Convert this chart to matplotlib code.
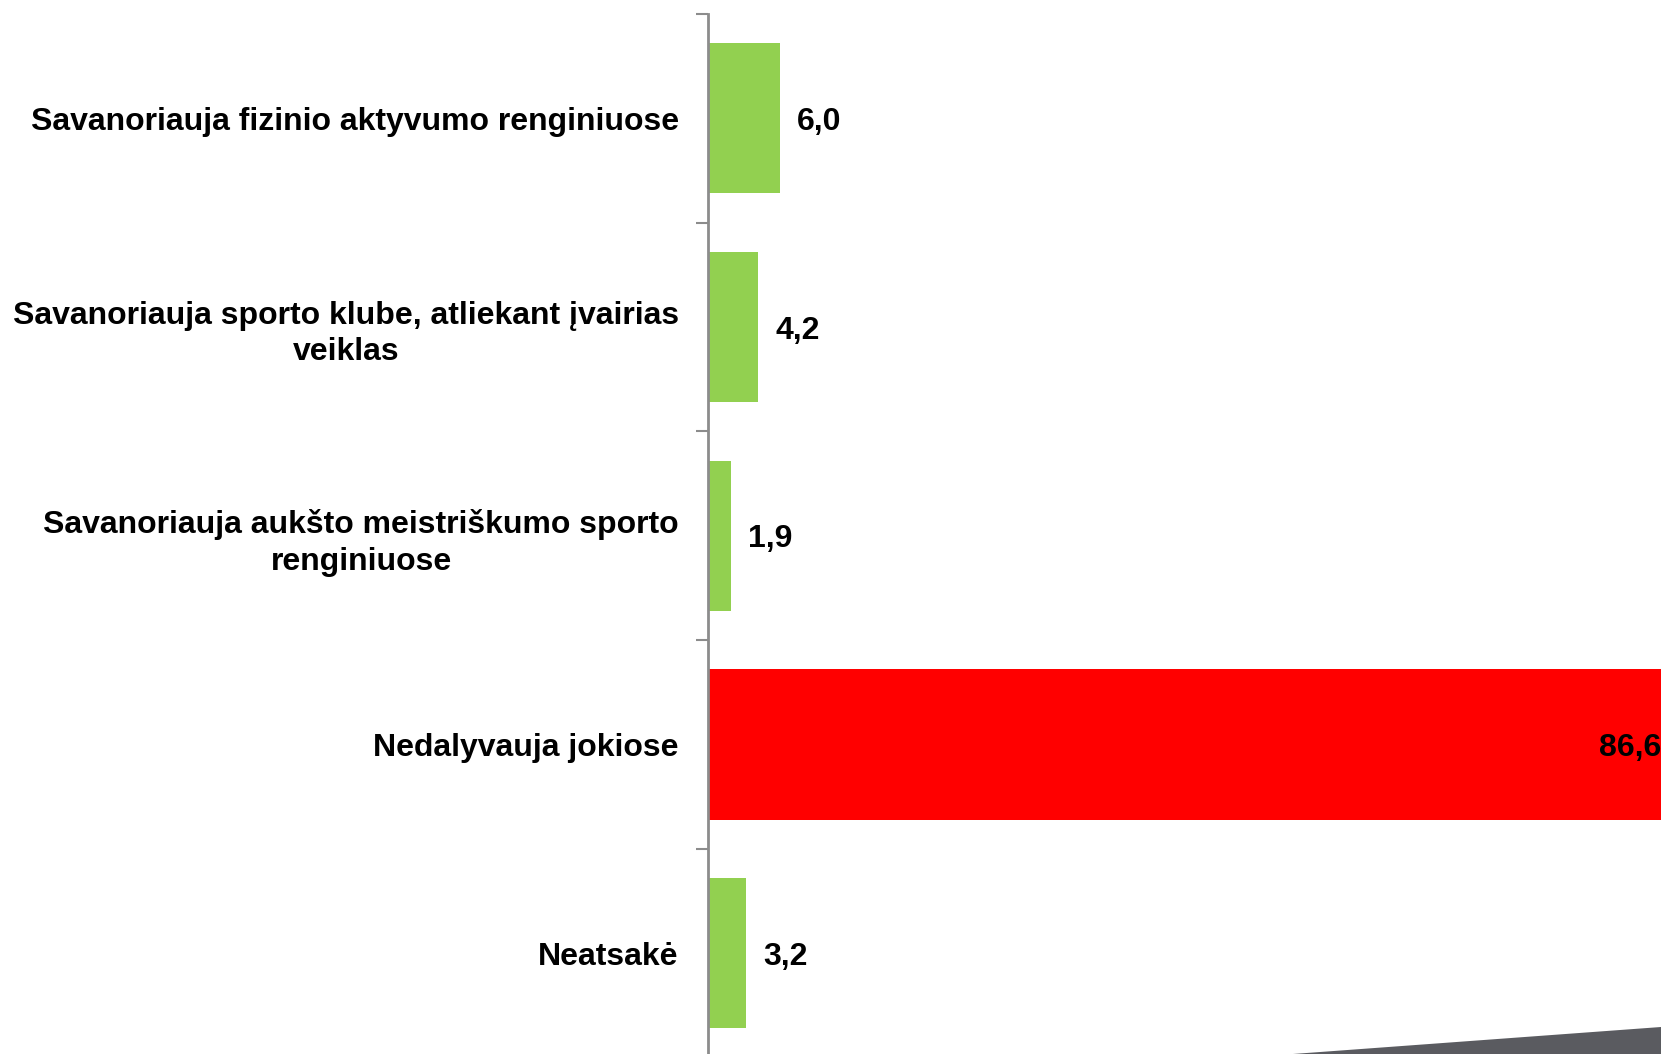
import matplotlib
matplotlib.use("Agg")
import matplotlib.pyplot as plt
from matplotlib.patches import Polygon

categories = [
    "Savanoriauja fizinio aktyvumo renginiuose",
    "Savanoriauja sporto klube, atliekant įvairias\nveiklas",
    "Savanoriauja aukšto meistriškumo sporto\nrenginiuose",
    "Nedalyvauja jokiose",
    "Neatsakė",
]
values = [6.0, 4.2, 1.9, 86.6, 3.2]
value_labels = ["6,0", "4,2", "1,9", "86,6", "3,2"]
highlight = [False, False, False, True, False]

GREEN = "#92d050"
RED = "#ff0000"

plt.rcParams['font.family'] = ['Liberation Sans', 'DejaVu Sans']

W, H = 1661, 1054
fig = plt.figure(figsize=(W / 100, H / 100), dpi=100)
ax = fig.add_axes([708 / W, -3.5 / H, 1200 / W, (1057.5 - 14) / H])

ypos = list(range(len(categories)))
colors = [RED if h else GREEN for h in highlight]
ax.barh(ypos, values, height=0.72, color=colors, zorder=2)

ax.set_xlim(0, 100)
ax.set_ylim(len(categories) - 0.5, -0.5)

for s in ["top", "right", "bottom"]:
    ax.spines[s].set_visible(False)
ax.spines["left"].set_color("#8c8c8c")
ax.spines["left"].set_linewidth(2)
ax.spines["left"].set_zorder(3)
ax.set_xticks([])

ax.set_yticks(ypos)
ax.set_yticklabels(categories, fontsize=23, fontweight="bold", ha="right",
                   multialignment="center", linespacing=1.3)
ax.tick_params(axis="y", which="major", length=0, pad=21)
ax.set_yticks([i - 0.5 for i in range(len(categories) + 1)], minor=True)
ax.tick_params(axis="y", which="minor", length=9, width=1.5, color="#8c8c8c")

for y, v, lab, h in zip(ypos, values, value_labels, highlight):
    if h:
        ax.text(v - 7.2, y, lab, ha="right", va="center_baseline", fontsize=23,
                fontweight="bold", color="black", zorder=4)
    else:
        ax.text(v + 1.4, y, lab, ha="left", va="center_baseline", fontsize=23,
                fontweight="bold", color="black", zorder=4)

# decorative slide shape at bottom right
poly = Polygon([[1293 / W, 0], [1.0, 1 - 1027 / H], [1.0, 0]], closed=True,
               transform=fig.transFigure, facecolor="#5a5b60", edgecolor="none",
               zorder=5)
fig.patches.append(poly)

fig.savefig("out.png", dpi=100)
